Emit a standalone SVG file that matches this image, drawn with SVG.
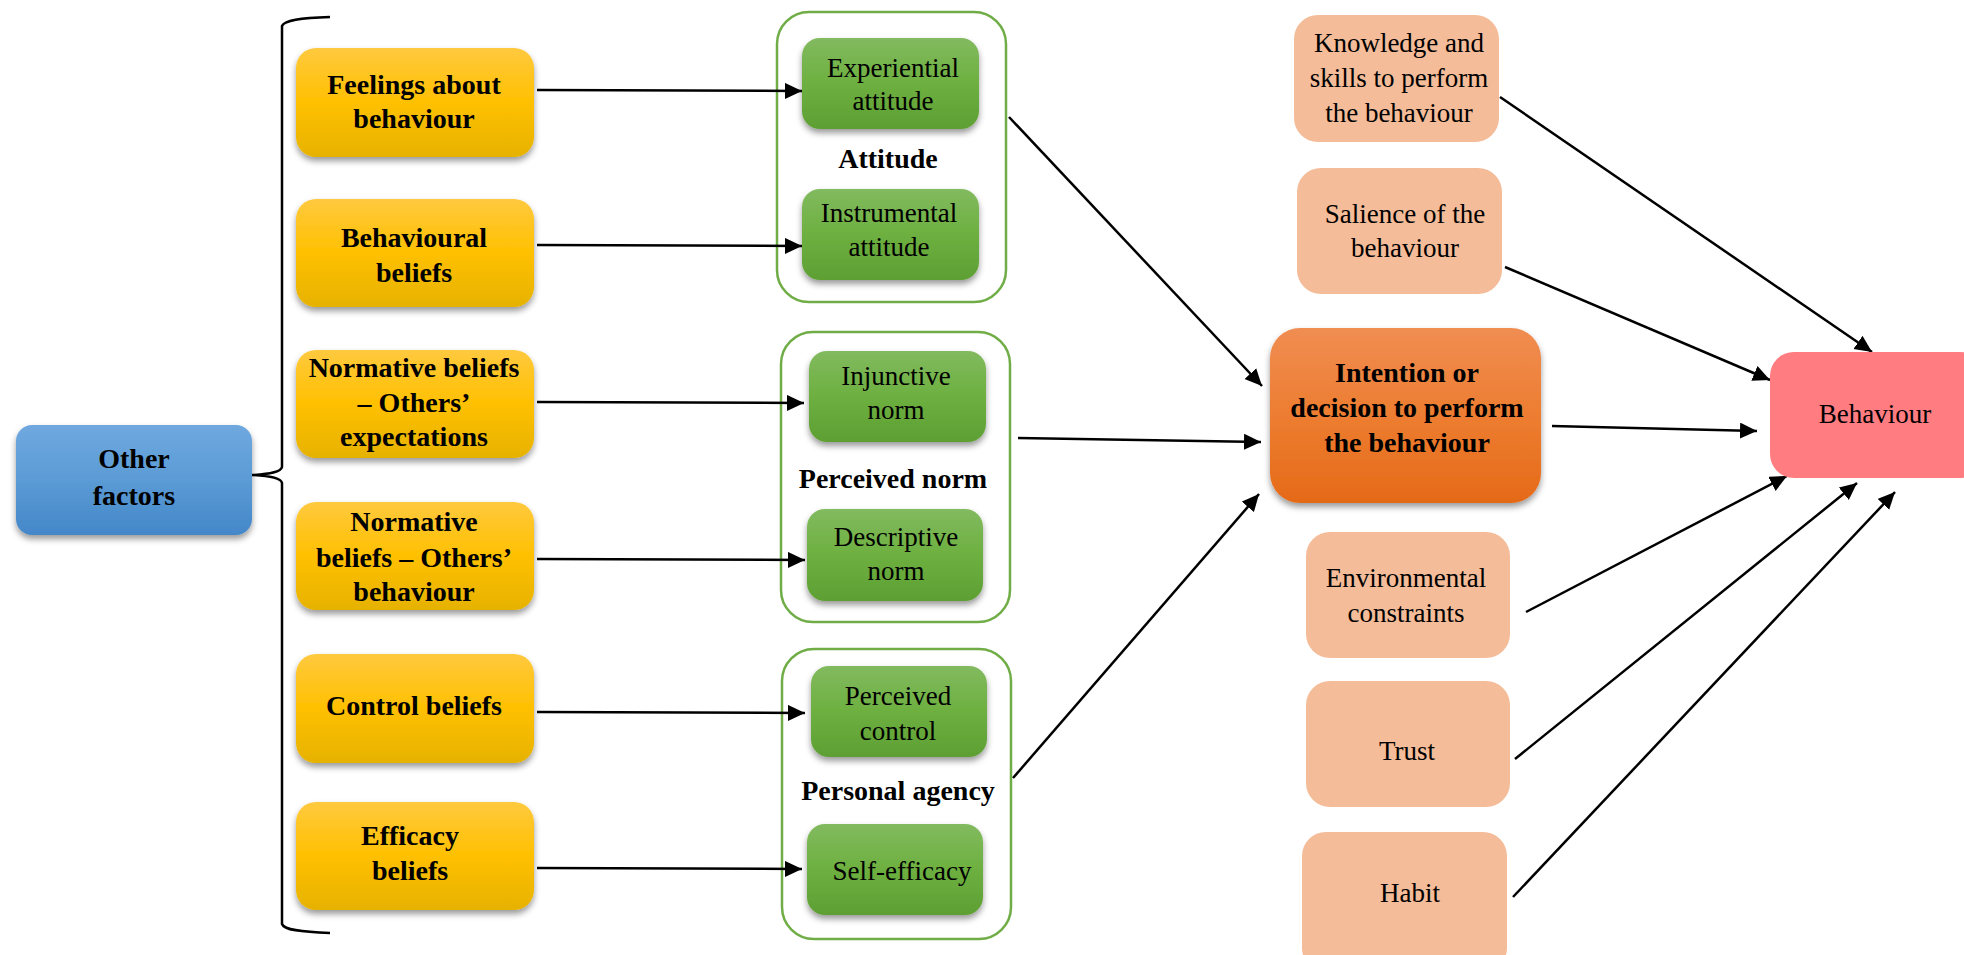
<svg xmlns="http://www.w3.org/2000/svg" width="1964" height="955" viewBox="0 0 1964 955">
<defs>
<style>
text{font-family:"Liberation Serif","Times New Roman",serif;font-size:27px;fill:#000;text-anchor:middle}
.b{font-weight:bold;font-size:28px}
.conn line,.conn path{stroke:#000;stroke-width:2.5;fill:none}
.cont{fill:#fff;stroke:#70AD47;stroke-width:2.5}
.lo{fill:#F4BC98}
</style>
<linearGradient id="gy" x1="0" y1="0" x2="0" y2="1"><stop offset="0" stop-color="#FFC93F"/><stop offset="0.5" stop-color="#FFC000"/><stop offset="1" stop-color="#E6B200"/></linearGradient>
<linearGradient id="gg" x1="0" y1="0" x2="0" y2="1"><stop offset="0" stop-color="#82BA5F"/><stop offset="0.5" stop-color="#6DB040"/><stop offset="1" stop-color="#5E9F33"/></linearGradient>
<linearGradient id="gb" x1="0" y1="0" x2="0" y2="1"><stop offset="0" stop-color="#6FA8DF"/><stop offset="0.5" stop-color="#5B9BD5"/><stop offset="1" stop-color="#4487C9"/></linearGradient>
<linearGradient id="go" x1="0" y1="0" x2="0" y2="1"><stop offset="0" stop-color="#F08D52"/><stop offset="0.5" stop-color="#ED7D31"/><stop offset="1" stop-color="#E56A18"/></linearGradient>
<filter id="sh" x="-10%" y="-10%" width="120%" height="130%"><feDropShadow dx="0" dy="4" stdDeviation="3" flood-color="#000" flood-opacity="0.4"/></filter>
<marker id="ah" markerUnits="userSpaceOnUse" markerWidth="19" markerHeight="17" refX="17" refY="8" orient="auto"><path d="M0,0 L17,8 L0,16 z" fill="#000"/></marker>
</defs>
<rect width="1964" height="955" fill="#fff"/>

<g id="containers">
<rect id="attitude-group" class="cont" x="777" y="12" width="229" height="290" rx="32"/>
<rect id="norm-group" class="cont" x="781" y="332" width="229" height="290" rx="32"/>
<rect id="agency-group" class="cont" x="782" y="649" width="229" height="290" rx="32"/>
</g>

<g class="conn" id="connectors">
<path d="M330,17 C300,18 284,20 282,26 L282,467 C281,472 270,474 252,475 C270,476 281,478 282,483 L282,924 C284,930 300,932 330,933"/>
<line x1="537" y1="90" x2="802" y2="91" marker-end="url(#ah)"/>
<line x1="537" y1="245" x2="802" y2="246" marker-end="url(#ah)"/>
<line x1="537" y1="402" x2="804" y2="403" marker-end="url(#ah)"/>
<line x1="537" y1="559" x2="805" y2="560" marker-end="url(#ah)"/>
<line x1="537" y1="712" x2="805" y2="713" marker-end="url(#ah)"/>
<line x1="537" y1="868" x2="802" y2="869" marker-end="url(#ah)"/>
<line x1="1009" y1="117" x2="1262" y2="386" marker-end="url(#ah)"/>
<line x1="1018" y1="438" x2="1261" y2="442" marker-end="url(#ah)"/>
<line x1="1013" y1="778" x2="1259" y2="494" marker-end="url(#ah)"/>
<line x1="1552" y1="426" x2="1757" y2="431" marker-end="url(#ah)"/>
<line x1="1500" y1="97" x2="1872" y2="352" marker-end="url(#ah)"/>
<line x1="1505" y1="267" x2="1770" y2="380" marker-end="url(#ah)"/>
<line x1="1526" y1="612" x2="1787" y2="476" marker-end="url(#ah)"/>
<line x1="1515" y1="759" x2="1857" y2="483" marker-end="url(#ah)"/>
<line x1="1513" y1="897" x2="1895" y2="492" marker-end="url(#ah)"/>
</g>

<g id="other-factors"><rect x="16" y="425" width="236" height="110" rx="16" fill="url(#gb)" filter="url(#sh)"/><text class="b" x="134" y="468">Other</text><text class="b" x="134" y="505">factors</text></g>

<g id="feelings"><rect x="296" y="48" width="238" height="109" rx="20" fill="url(#gy)" filter="url(#sh)"/><text class="b" x="414" y="94">Feelings about</text><text class="b" x="414" y="128">behaviour</text></g>
<g id="behavioural-beliefs"><rect x="296" y="199" width="238" height="108" rx="20" fill="url(#gy)" filter="url(#sh)"/><text class="b" x="414" y="247">Behavioural</text><text class="b" x="414" y="282">beliefs</text></g>
<g id="normative-expectations"><rect x="296" y="350" width="238" height="108" rx="20" fill="url(#gy)" filter="url(#sh)"/><text class="b" x="414" y="377">Normative beliefs</text><text class="b" x="414" y="412">– Others’</text><text class="b" x="414" y="446">expectations</text></g>
<g id="normative-behaviour"><rect x="296" y="502" width="238" height="108" rx="20" fill="url(#gy)" filter="url(#sh)"/><text class="b" x="414" y="531">Normative</text><text class="b" x="414" y="567">beliefs – Others’</text><text class="b" x="414" y="601">behaviour</text></g>
<g id="control-beliefs"><rect x="296" y="654" width="238" height="109" rx="20" fill="url(#gy)" filter="url(#sh)"/><text class="b" x="414" y="715">Control beliefs</text></g>
<g id="efficacy-beliefs"><rect x="296" y="802" width="238" height="108" rx="20" fill="url(#gy)" filter="url(#sh)"/><text class="b" x="410" y="845">Efficacy</text><text class="b" x="410" y="880">beliefs</text></g>

<g id="experiential"><rect x="802" y="38" width="177" height="91" rx="18" fill="url(#gg)" filter="url(#sh)"/><text x="893" y="77">Experiential</text><text x="893" y="110">attitude</text></g>
<text class="b" x="888" y="168">Attitude</text>
<g id="instrumental"><rect x="802" y="189" width="177" height="91" rx="18" fill="url(#gg)" filter="url(#sh)"/><text x="889" y="222">Instrumental</text><text x="889" y="256">attitude</text></g>

<g id="injunctive"><rect x="809" y="351" width="177" height="91" rx="18" fill="url(#gg)" filter="url(#sh)"/><text x="896" y="385">Injunctive</text><text x="896" y="419">norm</text></g>
<text class="b" x="893" y="488">Perceived norm</text>
<g id="descriptive"><rect x="807" y="509" width="176" height="92" rx="18" fill="url(#gg)" filter="url(#sh)"/><text x="896" y="546">Descriptive</text><text x="896" y="580">norm</text></g>

<g id="perceived-control"><rect x="811" y="666" width="176" height="91" rx="18" fill="url(#gg)" filter="url(#sh)"/><text x="898" y="705">Perceived</text><text x="898" y="740">control</text></g>
<text class="b" x="898" y="800">Personal agency</text>
<g id="self-efficacy"><rect x="807" y="824" width="176" height="91" rx="18" fill="url(#gg)" filter="url(#sh)"/><text x="902" y="880">Self-efficacy</text></g>

<g id="intention"><rect x="1270" y="328" width="271" height="175" rx="30" fill="url(#go)" filter="url(#sh)"/><text class="b" x="1407" y="382">Intention or</text><text class="b" x="1407" y="417">decision to perform</text><text class="b" x="1407" y="452">the behaviour</text></g>

<g id="knowledge"><rect class="lo" x="1294" y="15" width="205" height="127" rx="24"/><text x="1399" y="52">Knowledge and</text><text x="1399" y="87">skills to perform</text><text x="1399" y="122">the behaviour</text></g>
<g id="salience"><rect class="lo" x="1297" y="168" width="205" height="126" rx="24"/><text x="1405" y="223">Salience of the</text><text x="1405" y="257">behaviour</text></g>
<g id="environmental"><rect class="lo" x="1306" y="532" width="204" height="126" rx="24"/><text x="1406" y="587">Environmental</text><text x="1406" y="622">constraints</text></g>
<g id="trust"><rect class="lo" x="1306" y="681" width="204" height="126" rx="24"/><text x="1407" y="760">Trust</text></g>
<g id="habit"><rect class="lo" x="1302" y="832" width="205" height="140" rx="24"/><text x="1410" y="902">Habit</text></g>

<g id="behaviour"><rect x="1770" y="352" width="214" height="126" rx="24" fill="#FF7C80"/><text x="1875" y="423">Behaviour</text></g>
</svg>
